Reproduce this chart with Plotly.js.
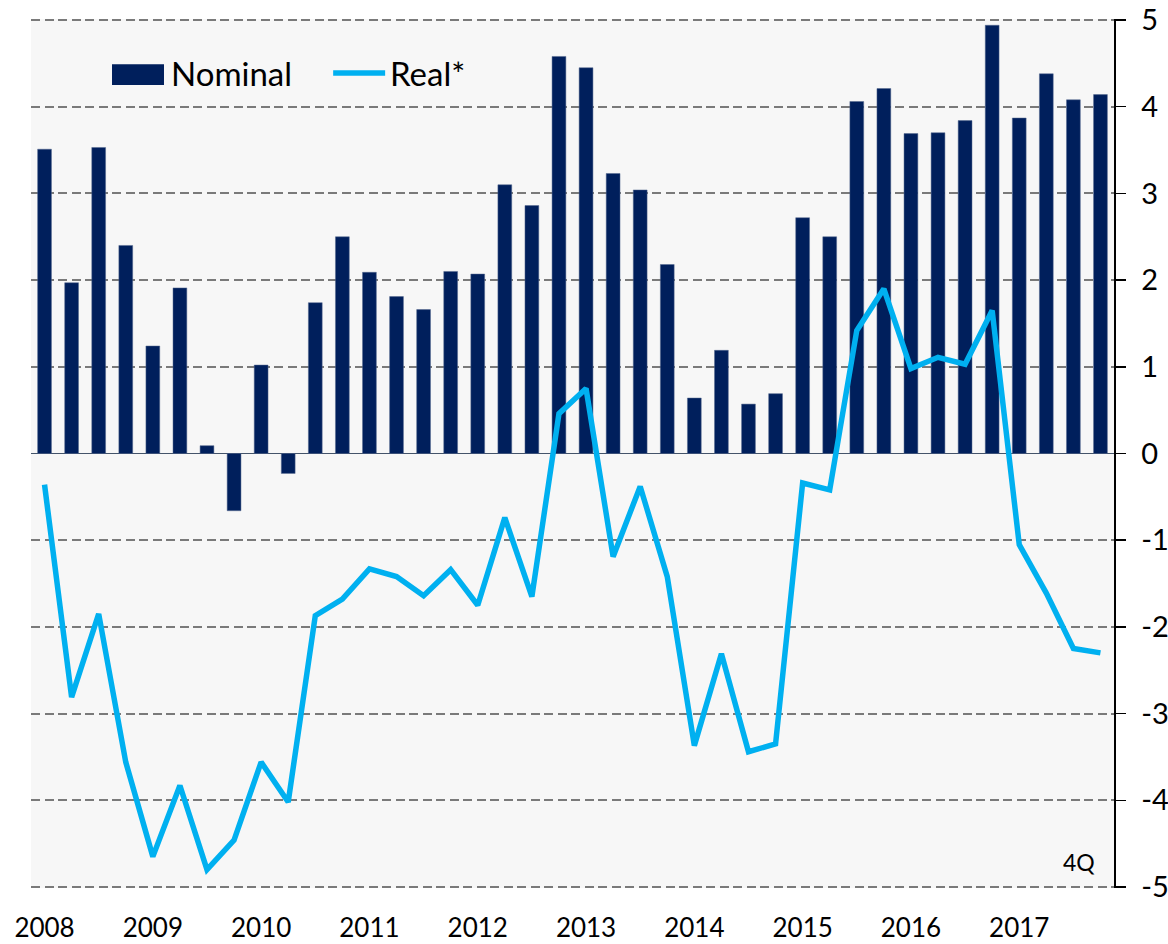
<!DOCTYPE html>
<html>
<head>
<meta charset="utf-8">
<script src="https://cdn.plot.ly/plotly-3.0.1.min.js"></script>
<style>html,body{margin:0;padding:0;background:#fff;}#chart{width:1168px;height:944px;}</style>
</head>
<body>
<div id="chart"></div>
<script>
const years = [2008, 2009, 2010, 2011, 2012, 2013, 2014, 2015, 2016, 2017];
const quarters = [];
years.forEach(y => { for (let q = 1; q <= 4; q++) quarters.push(y + 'Q' + q); });

const nominal = [
  3.51, 1.97, 3.53, 2.40,
  1.24, 1.91, 0.09, -0.66,
  1.02, -0.23, 1.74, 2.50,
  2.09, 1.81, 1.66, 2.10,
  2.07, 3.10, 2.86, 4.58,
  4.45, 3.23, 3.04, 2.18,
  0.64, 1.19, 0.57, 0.69,
  2.72, 2.50, 4.06, 4.21,
  3.69, 3.70, 3.84, 4.94,
  3.87, 4.38, 4.08, 4.14
];
const real = [
  -0.36, -2.81, -1.85, -3.56,
  -4.65, -3.83, -4.80, -4.46,
  -3.56, -4.02, -1.87, -1.68,
  -1.33, -1.42, -1.64, -1.34,
  -1.75, -0.74, -1.65, 0.46,
  0.75, -1.19, -0.38, -1.42,
  -3.37, -2.31, -3.44, -3.35,
  -0.34, -0.42, 1.42, 1.90,
  0.98, 1.11, 1.03, 1.65,
  -1.05, -1.61, -2.25, -2.30
];
const yTicks = [-5, -4, -3, -2, -1, 0, 1, 2, 3, 4, 5];
const yTickText = ['-5', '-4', '-3', '-2', '-1', '0', '1', '2', '3', '4', '5'];
const seriesNames = ['Nominal', 'Real*'];
const noteText = '4Q';

// decimal-year position of each quarter's centre
const xPos = quarters.map(s => parseInt(s.slice(0, 4)) + (parseInt(s.slice(5)) - 0.5) / 4);
const yearBounds = years.slice();
const yearLabelPos = years.map(y => y + 0.125);
const yearLabels = years.map(String);

const FONT = 'Lato, "Open Sans", sans-serif';
const NAVY = '#001f5c';
const CYAN = '#00b0f0';

const traces = [
  {
    type: 'bar', name: seriesNames[0], x: xPos, y: nominal,
    marker: { color: NAVY, line: { color: '#55688f', width: 0.5 } },
    customdata: quarters, hovertemplate: '%{customdata}: %{y}<extra></extra>'
  },
  {
    type: 'scatter', mode: 'lines', name: seriesNames[1], x: xPos, y: real,
    line: { color: CYAN, width: 5.5 },
    customdata: quarters, hovertemplate: '%{customdata}: %{y}<extra></extra>'
  }
];

// legend drawn in paper coordinates (wide swatches as in the original)
const legendY = 0.938;
const layout = {
  width: 1168, height: 944,
  margin: { l: 31, r: 54, t: 19, b: 56 },
  paper_bgcolor: '#ffffff',
  plot_bgcolor: '#f7f7f7',
  font: { family: FONT, color: '#000000' },
  bargap: 0.49,
  showlegend: false,
  xaxis: {
    range: [2008, 2018], anchor: 'y',
    tickmode: 'array', tickvals: yearLabelPos, ticktext: yearLabels,
    ticks: '', showline: false, showgrid: false, zeroline: false,
    tickfont: { size: 26, family: FONT, color: '#000' },
    ticklabelstandoff: 22, ticklabeloverflow: 'allow'
  },
  xaxis2: {
    overlaying: 'x', matches: 'x', range: [2008, 2018], anchor: 'free', position: 0.5, side: 'bottom',
    tickmode: 'array', tickvals: yearBounds, showticklabels: false,
    ticks: 'outside', ticklen: 10, tickwidth: 1.5, tickcolor: '#44546a',
    showline: false, showgrid: false, zeroline: false
  },
  xaxis3: {
    overlaying: 'x', matches: 'x', range: [2008, 2018], anchor: 'free', position: 0.5, side: 'top',
    tickmode: 'array', tickvals: yearBounds, showticklabels: false,
    ticks: 'outside', ticklen: 10, tickwidth: 1.5, tickcolor: '#44546a',
    showline: false, showgrid: false, zeroline: false
  },
  yaxis: {
    side: 'right', range: [-5.012, 5.012], tickmode: 'array', tickvals: yTicks, ticktext: yTickText,
    showline: true, linecolor: '#000', linewidth: 1.5,
    ticks: 'outside', ticklen: 10, tickwidth: 1.5, tickcolor: '#000',
    showgrid: true, gridcolor: '#7a7a7a', gridwidth: 2, griddash: '9px,4.5px',
    zeroline: true, zerolinecolor: '#44546a', zerolinewidth: 1.5,
    tickfont: { size: 29, family: FONT, color: '#000' },
    ticklabelstandoff: 10, ticklabeloverflow: 'allow'
  },
  shapes: [
    { type: 'rect', xref: 'paper', yref: 'paper', x0: 0.0748, x1: 0.1228, y0: 0.924, y1: 0.948,
      fillcolor: NAVY, line: { width: 0 } },
    { type: 'line', xref: 'paper', yref: 'paper', x0: 0.279, x1: 0.327, y0: legendY, y1: legendY,
      line: { color: CYAN, width: 5.5 } }
  ],
  annotations: [
    { xref: 'paper', yref: 'paper', x: 0.127, y: legendY, xanchor: 'left', yanchor: 'middle',
      text: seriesNames[0], showarrow: false, font: { size: 33, family: FONT, color: '#000' } },
    { xref: 'paper', yref: 'paper', x: 0.330, y: legendY, xanchor: 'left', yanchor: 'middle',
      text: seriesNames[1], showarrow: false, font: { size: 33, family: FONT, color: '#000' } },
    { xref: 'paper', yref: 'paper', x: 0.984, y: 0.012, xanchor: 'right', yanchor: 'bottom',
      text: noteText, showarrow: false, font: { size: 23, family: FONT, color: '#000' } }
  ]
};

Plotly.newPlot('chart', traces, layout, { displayModeBar: false, staticPlot: true });
</script>
</body>
</html>
